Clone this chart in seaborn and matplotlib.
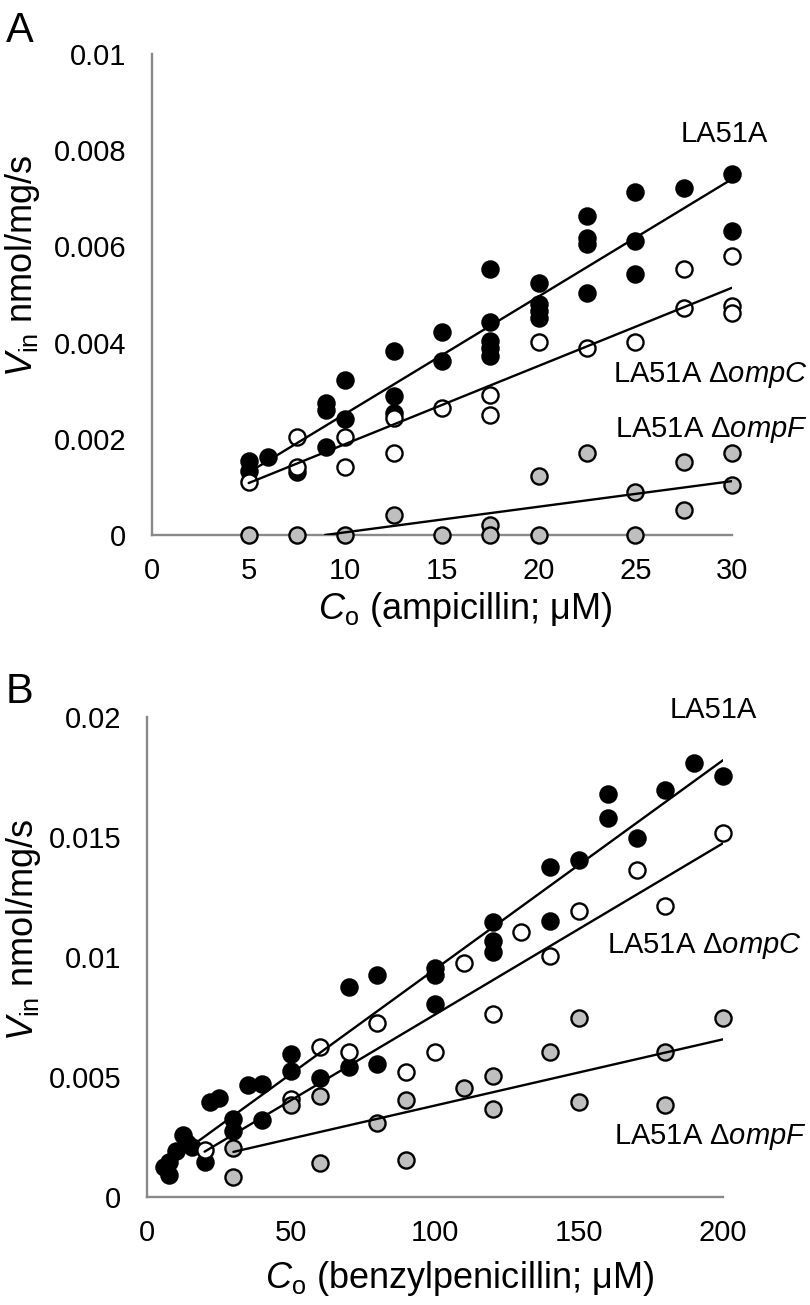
import matplotlib
matplotlib.use("Agg")
import matplotlib.pyplot as plt
import seaborn as sns
import pandas as pd

# ---------------- data: panel A (ampicillin) ----------------
amp_wt_x = [5, 5, 6, 7.5, 9, 9, 9, 10, 10, 12.5, 12.5, 12.5, 15, 15, 17.5, 17.5, 17.5, 17.5, 17.5,
            20, 20, 20, 20, 22.5, 22.5, 22.5, 22.5, 25, 25, 25, 27.5, 30, 30]
amp_wt_y = [0.00153, 0.00134, 0.00162, 0.00132, 0.00274, 0.0026, 0.00183, 0.00323, 0.00242,
            0.00382, 0.0029, 0.00253, 0.00422, 0.00361, 0.00553, 0.00442, 0.00403, 0.00389, 0.00372,
            0.00524, 0.00481, 0.00465, 0.00451, 0.00663, 0.00618, 0.00604, 0.00503,
            0.00713, 0.00611, 0.00542, 0.00722, 0.0075, 0.00632]
amp_C_x = [5, 7.5, 7.5, 10, 10, 12.5, 12.5, 15, 17.5, 17.5, 20, 22.5, 25, 27.5, 27.5, 30, 30, 30]
amp_C_y = [0.0011, 0.00203, 0.00142, 0.00203, 0.00141, 0.00243, 0.0017, 0.00263, 0.00292, 0.0025,
           0.00401, 0.00389, 0.00401, 0.00552, 0.00472, 0.00581, 0.00476, 0.00462]
amp_F_x = [5, 7.5, 10, 12.5, 15, 17.5, 17.5, 20, 20, 22.5, 25, 25, 27.5, 27.5, 30, 30]
amp_F_y = [0, 0, 0, 0.00042, 0, 0.00021, 0, 0.00122, 0, 0.0017, 0.0009, 0, 0.00151, 0.00052,
           0.0017, 0.00104]
# trend lines (end points)
amp_fit_wt_x = [5, 30];   amp_fit_wt_y = [0.0013, 0.0074]
amp_fit_C_x = [5, 30];    amp_fit_C_y = [0.00108, 0.00514]
amp_fit_F_x = [8.95, 30]; amp_fit_F_y = [0.0, 0.00112]

# ---------------- data: panel B (benzylpenicillin) ----------------
pen_wt_x = [6, 7.5, 7.5, 10, 12.5, 14, 15.5, 20, 22, 25, 30, 30, 35, 40, 40, 50, 50, 60, 70, 70,
            80, 80, 100, 100, 100, 120, 120, 120, 140, 140, 150, 160, 160, 170, 180, 190, 200]
pen_wt_y = [0.00126, 0.00092, 0.00147, 0.00193, 0.0026, 0.00226, 0.0021, 0.00147, 0.00397, 0.00413,
            0.00326, 0.00275, 0.00467, 0.00472, 0.00322, 0.00597, 0.00524, 0.00494, 0.00875, 0.00543,
            0.00923, 0.00556, 0.00953, 0.00927, 0.00805, 0.01147, 0.01068, 0.01022, 0.01376, 0.01151,
            0.01404, 0.01679, 0.01578, 0.01495, 0.01696, 0.01807, 0.01754]
pen_C_x = [20, 50, 60, 70, 80, 90, 100, 110, 120, 130, 140, 150, 170, 180, 200]
pen_C_y = [0.00195, 0.00407, 0.00626, 0.00605, 0.00724, 0.00522, 0.00605, 0.00974, 0.00762,
           0.01105, 0.01004, 0.01193, 0.01362, 0.01212, 0.01515]
pen_F_x = [30, 30, 50, 60, 60, 80, 90, 90, 110, 120, 120, 140, 150, 150, 180, 180, 200]
pen_F_y = [0.00205, 0.00085, 0.00383, 0.00421, 0.00143, 0.00307, 0.00404, 0.00154, 0.00453,
           0.00504, 0.00365, 0.00605, 0.00745, 0.00397, 0.00605, 0.00383, 0.00745]
pen_fit_wt_x = [16, 200]; pen_fit_wt_y = [0.00217, 0.0182]
pen_fit_C_x = [20, 200];  pen_fit_C_y = [0.00189, 0.01474]
pen_fit_F_x = [30, 200];  pen_fit_F_y = [0.00188, 0.00657]

# ticks
amp_xticks = [0, 5, 10, 15, 20, 25, 30]
amp_yticks = [0, 0.002, 0.004, 0.006, 0.008, 0.01]
amp_ylabels = ["0", "0.002", "0.004", "0.006", "0.008", "0.01"]
pen_xticks = [0, 50, 100, 150, 200]
pen_yticks = [0, 0.005, 0.01, 0.015, 0.02]
pen_ylabels = ["0", "0.005", "0.01", "0.015", "0.02"]

strain_labels = ["LA51A", "LA51A Δ$\\mathit{ompC}$", "LA51A Δ$\\mathit{ompF}$"]

# ---------------- style ----------------
sns.set_style("white")
plt.rcParams["font.family"] = ["Liberation Sans", "DejaVu Sans"]
plt.rcParams["mathtext.fontset"] = "custom"
plt.rcParams["mathtext.rm"] = "Liberation Sans"
plt.rcParams["mathtext.it"] = "Liberation Sans:italic"
plt.rcParams["mathtext.bf"] = "Liberation Sans:bold"
plt.rcParams["text.color"] = "black"
plt.rcParams["axes.labelcolor"] = "black"

SPINE = "#898989"
GRAY = "#BFBFBF"
TICK_FS = 21
LABEL_FS = 26
MS = 135
EW = 1.7

fig = plt.figure(figsize=(8.1, 13.05), dpi=100)
axA = fig.add_axes([152 / 810, 1 - 535 / 1305, 580 / 810, 481 / 1305])
axB = fig.add_axes([147 / 810, 1 - 1197 / 1305, 576 / 810, 480 / 1305])


def draw_panel(ax, wt, dc, df, fits):
    for (xs, ys), face in zip([wt, dc, df], ["black", "white", GRAY]):
        d = pd.DataFrame({"x": xs, "y": ys})
        sns.scatterplot(data=d, x="x", y="y", ax=ax, color=face, edgecolor="black",
                        linewidth=EW, s=MS, clip_on=False, zorder=3, legend=False)
    for fx, fy in fits:
        d = pd.DataFrame({"x": fx, "y": fy})
        sns.lineplot(data=d, x="x", y="y", ax=ax, color="black", linewidth=1.7,
                     zorder=4, legend=False, estimator=None)


def style_axes(ax, xticks, yticks, ylabels, xlim, ylim):
    ax.set_xlim(*xlim)
    ax.set_ylim(*ylim)
    ax.set_xticks(xticks)
    ax.set_xticklabels([str(t) for t in xticks])
    ax.set_yticks(yticks)
    ax.set_yticklabels(ylabels)
    for s in ["top", "right"]:
        ax.spines[s].set_visible(False)
    for s in ["left", "bottom"]:
        ax.spines[s].set_color(SPINE)
        ax.spines[s].set_linewidth(1.7)
        ax.spines[s].set_zorder(2)
    ax.tick_params(axis="both", direction="out", length=6.5, width=1.7, color=SPINE,
                   labelsize=TICK_FS, labelcolor="black")
    ax.tick_params(axis="y", pad=12)
    ax.tick_params(axis="x", pad=9)
    ax.grid(False)


# Panel A
draw_panel(axA, (amp_wt_x, amp_wt_y), (amp_C_x, amp_C_y), (amp_F_x, amp_F_y),
           [(amp_fit_wt_x, amp_fit_wt_y), (amp_fit_C_x, amp_fit_C_y), (amp_fit_F_x, amp_fit_F_y)])
style_axes(axA, amp_xticks, amp_yticks, amp_ylabels, (0, 30), (0, 0.01))
axA.set_xlabel("$C_{\\mathrm{o}}$ (ampicillin; μM)", fontsize=LABEL_FS)
axA.set_ylabel("$V_{\\mathrm{in}}$ nmol/mg/s", fontsize=LABEL_FS)
axA.xaxis.set_label_coords(0.54, -0.115)
axA.yaxis.set_label_coords(-0.19, 0.56)
axA.text(29.6, 0.00817, strain_labels[0], fontsize=TICK_FS, ha="center", va="baseline", clip_on=False)
axA.text(33.9, 0.00319, strain_labels[1], fontsize=TICK_FS, ha="right", va="baseline", clip_on=False)
axA.text(33.9, 0.00204, strain_labels[2], fontsize=TICK_FS, ha="right", va="baseline", clip_on=False)

# Panel B
draw_panel(axB, (pen_wt_x, pen_wt_y), (pen_C_x, pen_C_y), (pen_F_x, pen_F_y),
           [(pen_fit_wt_x, pen_fit_wt_y), (pen_fit_C_x, pen_fit_C_y), (pen_fit_F_x, pen_fit_F_y)])
style_axes(axB, pen_xticks, pen_yticks, pen_ylabels, (0, 200), (0, 0.02))
axB.set_xlabel("$C_{\\mathrm{o}}$ (benzylpenicillin; μM)", fontsize=LABEL_FS)
axB.set_ylabel("$V_{\\mathrm{in}}$ nmol/mg/s", fontsize=LABEL_FS)
axB.xaxis.set_label_coords(0.543, -0.13)
axB.yaxis.set_label_coords(-0.18, 0.557)
axB.text(196.5, 0.01996, strain_labels[0], fontsize=TICK_FS, ha="center", va="baseline", clip_on=False)
axB.text(227.4, 0.01017, strain_labels[1], fontsize=TICK_FS, ha="right", va="baseline", clip_on=False)
axB.text(229.2, 0.00221, strain_labels[2], fontsize=TICK_FS, ha="right", va="baseline", clip_on=False)

# panel letters
fig.text(6 / 810, 1 - 42 / 1305, "A", fontsize=30, va="baseline", ha="left")
fig.text(6 / 810, 1 - 703 / 1305, "B", fontsize=30, va="baseline", ha="left")

fig.savefig("out.png", dpi=100)
